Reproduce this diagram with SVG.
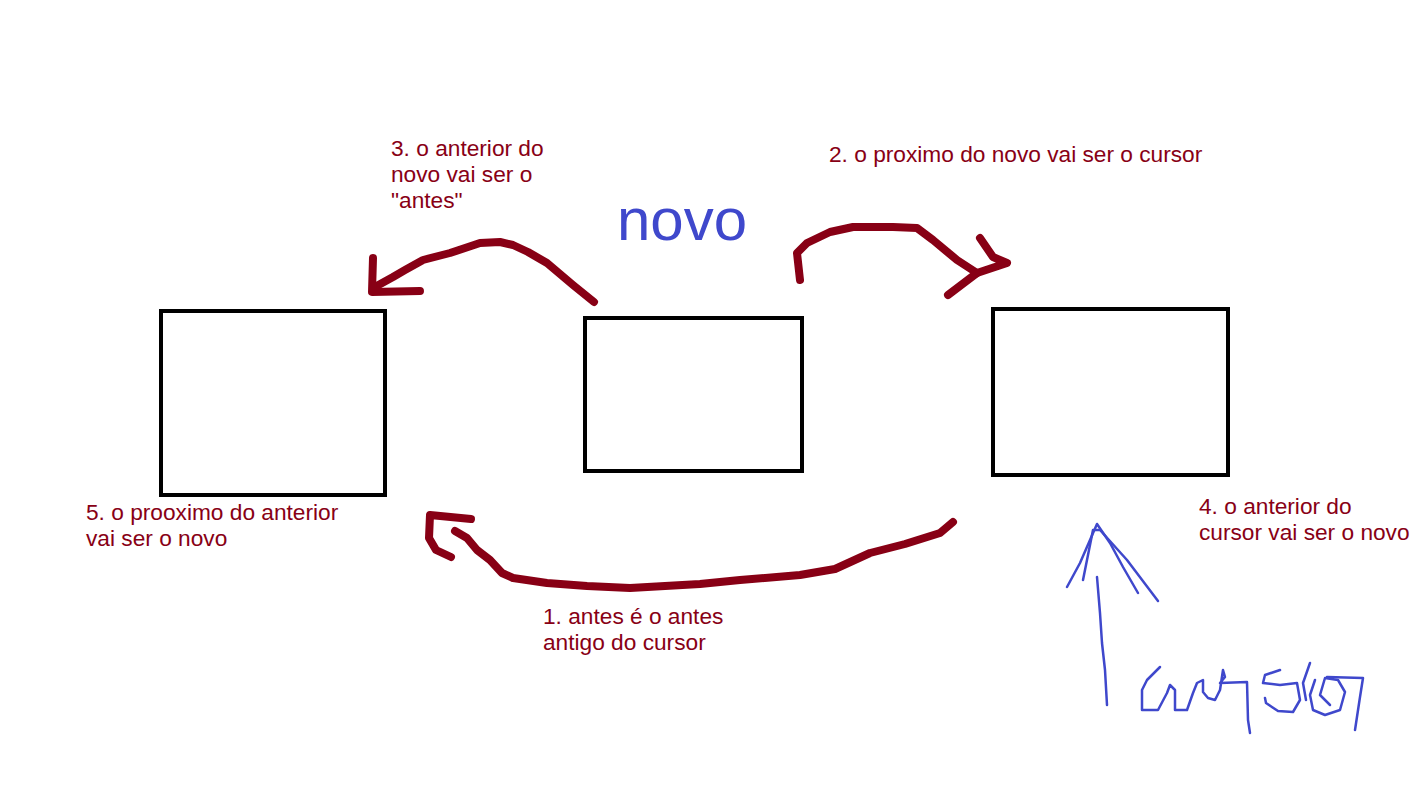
<svg xmlns="http://www.w3.org/2000/svg" width="1410" height="802" viewBox="0 0 1410 802">
<style>
.box{fill:#fff;stroke:#000;stroke-width:4}
.ink{fill:none;stroke:#880015;stroke-width:8;stroke-linecap:round;stroke-linejoin:round}
.pen{fill:none;stroke:#3F48CC;stroke-width:2.5;stroke-linecap:round;stroke-linejoin:round}
.lbl{font-family:"Liberation Sans",Arial,sans-serif;font-size:22.7px;fill:#880015}
.big{font-family:"Liberation Sans",Arial,sans-serif;font-size:60px;fill:#3F48CC}
</style>
<rect width="1410" height="802" fill="#fff"/>
<g id="node-left"><rect class="box" x="161" y="311" width="224" height="184"/></g>
<g id="node-novo"><rect class="box" x="585" y="318" width="217" height="153"/><text class="big" x="617" y="240">novo</text></g>
<g id="node-right"><rect class="box" x="993" y="309" width="235" height="166"/></g>
<g id="connectors">
<path class="ink" d="M594,302 L573,285 L547,263 L528,252 L513,245 L500,242 L480,243 L450,253 L423,260 L405,270 L393,277 L373,288"/>
<path class="ink" d="M373,258 L372,292 L420,291"/>
<path class="ink" d="M800,280 L797,253 L807,243 L830,232 L853,227 L893,227 L917,228 L933,240 L957,260 L977,273"/>
<path class="ink" d="M980,238 L993,257 L1007,263 L977,273 L948,295"/>
<path class="ink" d="M953,522 L940,533 L905,544 L870,553 L835,569 L800,575 L740,580 L700,584 L630,588 L587,586 L547,583 L513,578 L502,573 L490,560 L477,550 L467,538 L455,531"/>
<path class="ink" d="M471,519 L430,515 L429,538 L436,550 L451,557"/>
<path class="pen" d="M1107,705 L1105,670 L1102,643 L1100,613 L1097,577"/>
<path class="pen" d="M1067,587 L1080,563 L1090,540 L1097,524 L1110,543 L1123,567 L1138,593"/>
<path class="pen" d="M1083,580 L1093,530 L1100,530 L1127,560 L1158,601"/>
</g>
<g id="scribble">
<path class="pen" d="M1160,667 L1147,680 L1142,690 L1142,710 L1158,710 L1167,693 L1170,685 L1175,690 L1175,710 L1187,710 L1193,693 L1197,683 L1203,680 L1203,692 L1208,698 L1215,700 L1220,690 L1223,670 L1225,677 L1220,683 L1247,682 L1248,720 L1250,733"/>
<path class="pen" d="M1280,670 L1265,675 L1263,683 L1280,685 L1297,683 L1300,700 L1293,712 L1278,711 L1266,703 L1265,698"/>
<path class="pen" d="M1310,663 L1303,683 L1306,700"/>
<path class="pen" d="M1315,680 L1310,695 L1313,710 L1325,715 L1340,710 L1345,692 L1338,680 L1325,678 L1320,695 L1330,705"/>
<path class="pen" d="M1327,677 L1363,678 L1360,697 L1355,730"/>
</g>
<g id="labels">
<text class="lbl" x="391" y="156">3. o anterior do</text>
<text class="lbl" x="391" y="182">novo vai ser o</text>
<text class="lbl" x="391" y="208">"antes"</text>
<text class="lbl" x="829" y="162">2. o proximo do novo vai ser o cursor</text>
<text class="lbl" x="86" y="520">5. o prooximo do anterior</text>
<text class="lbl" x="86" y="546">vai ser o novo</text>
<text class="lbl" x="543" y="624">1. antes é o antes</text>
<text class="lbl" x="543" y="650">antigo do cursor</text>
<text class="lbl" x="1199" y="514">4. o anterior do</text>
<text class="lbl" x="1199" y="540">cursor vai ser o novo</text>
</g>
</svg>
